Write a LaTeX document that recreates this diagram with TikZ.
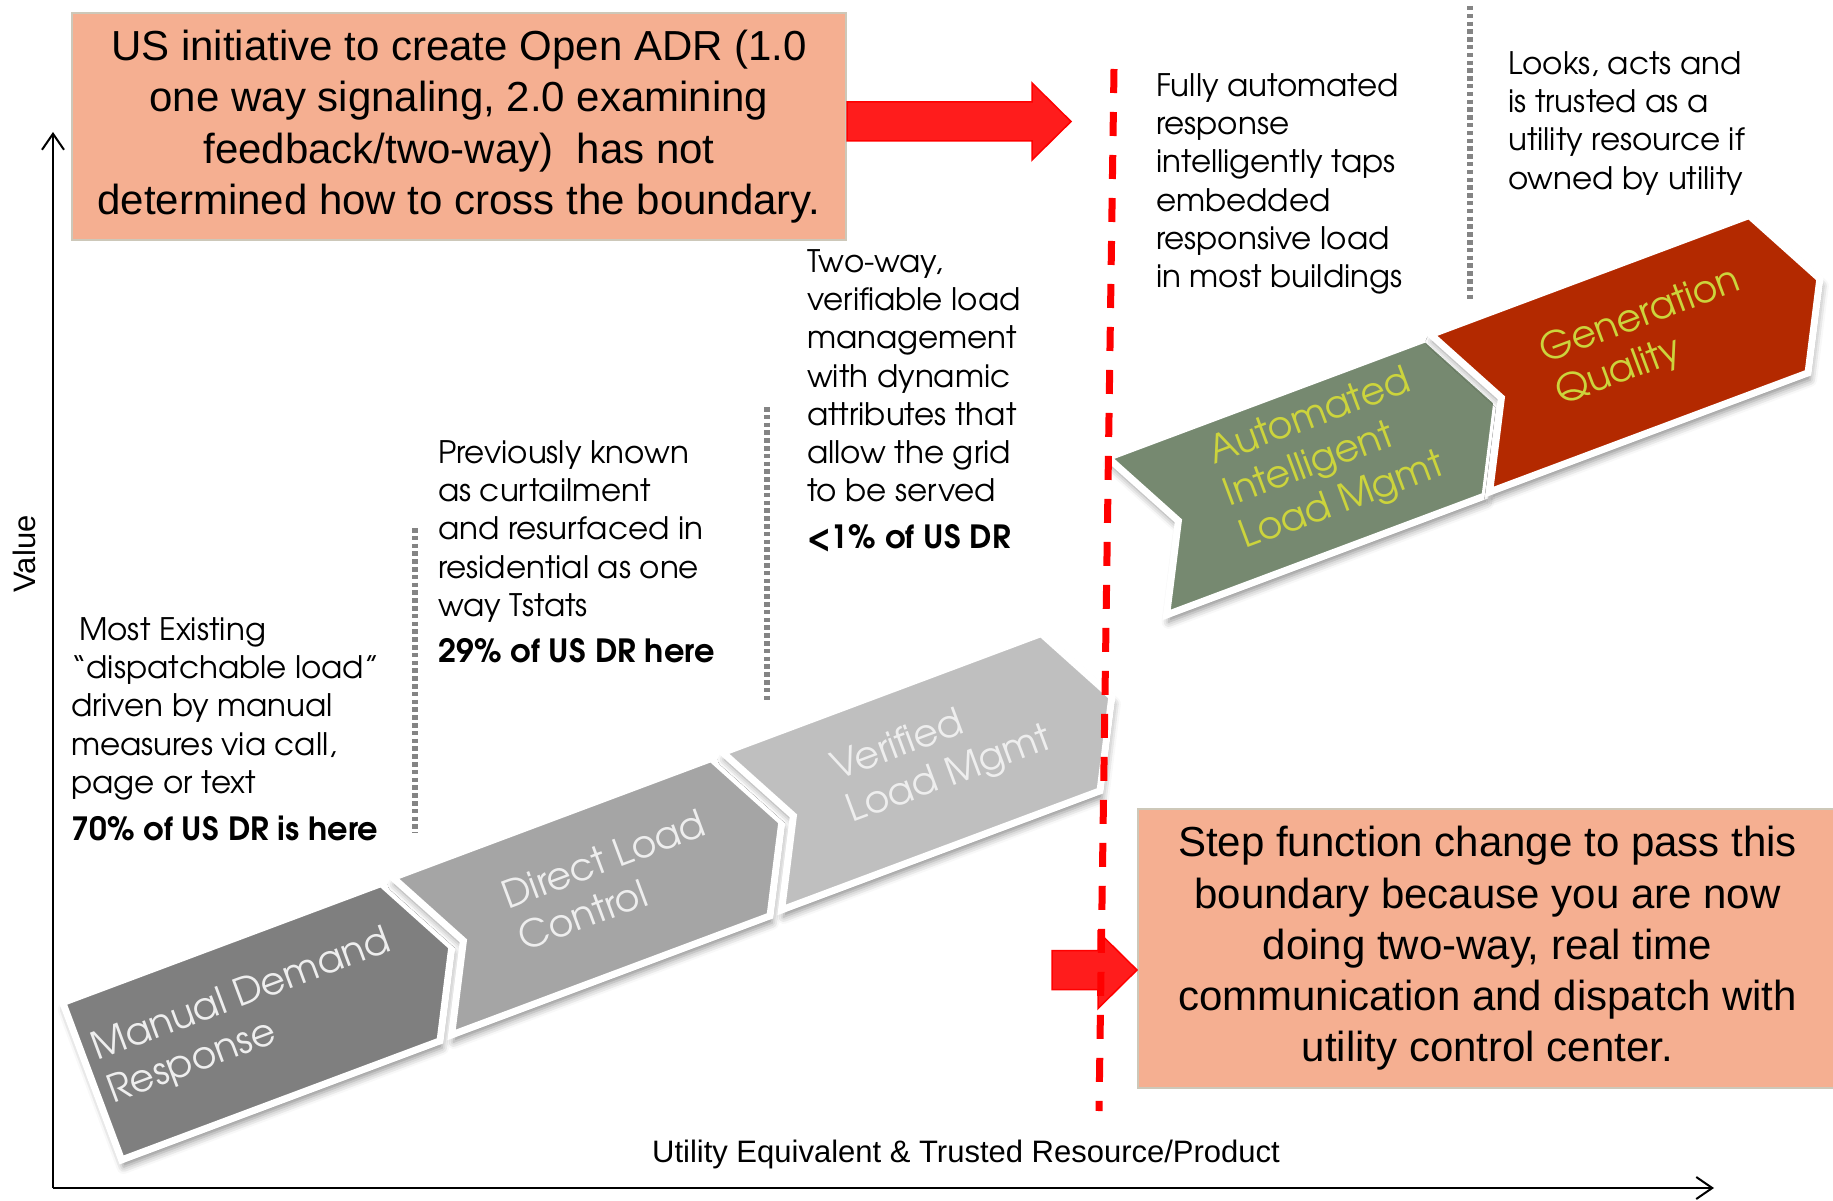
\documentclass[tikz,border=0pt]{standalone}
\usepackage{fontspec}
\setmainfont{Liberation Sans}
\newfontfamily\gothic{texgyreadventor}[Extension=.otf,UprightFont=*-regular,BoldFont=*-bold]
\usetikzlibrary{arrows.meta,calc,shadows.blur}

\definecolor{notefill}{RGB}{245,175,145}
\definecolor{noteline}{RGB}{205,200,185}
\definecolor{arrowred}{RGB}{255,28,28}
\definecolor{dotgrey}{RGB}{132,132,132}
\definecolor{mdrgrey}{RGB}{127,127,127}
\definecolor{dlcgrey}{RGB}{165,165,165}
\definecolor{vlmgrey}{RGB}{191,191,191}
\definecolor{ailmgreen}{RGB}{118,137,112}
\definecolor{gqred}{RGB}{179,41,0}
\definecolor{chevlime}{RGB}{204,212,60}
\definecolor{chevpale}{RGB}{238,238,238}

% name, centre, notch depth, fill, text colour, text start, label
\newcommand\chevron[7]{%
  \begin{scope}[shift={#2}, rotate=20.5]
    \draw[chevframe, fill=#4] (-192,84) -- (148,84) -- (192,0) -- (148,-84) -- (-192,-84) -- (-192+#3,0) -- cycle;
    \node[chevlabel, text=#5] (#1) at (#6,5) {#7};
  \end{scope}}

% tail, tip
\newcommand\blockarrow[2]{%
  \draw[redarrow] ($(#1)+(0,19.5)$) -- ($(#2)+(-39,19.5)$) -- ($(#2)+(-39,38.5)$) -- (#2)
    -- ($(#2)+(-39,-38.5)$) -- ($(#2)+(-39,-19.5)$) -- ($(#1)+(0,-19.5)$) -- cycle;}

\newcommand\share[1]{{\fontsize{32}{38.3}\selectfont\bfseries #1}}

\begin{document}
\begin{tikzpicture}[x=1pt, y=1pt,
chevframe/.style={draw=white, line width=7pt, line join=miter,
  blur shadow={shadow xshift=2pt, shadow yshift=-7pt, shadow blur radius=7pt, shadow opacity=45}},
chevlabel/.style={anchor=west, align=left, inner sep=0pt, transform shape, font=\gothic\fontsize{38}{45}\selectfont},
note/.style={anchor=north west, align=left, inner sep=0pt, font=\gothic\fontsize{31}{38.3}\selectfont},
notebox/.style={fill=notefill, draw=noteline, line width=2pt, align=center, font=\fontsize{42}{51.3}\selectfont},
redarrow/.style={fill=arrowred, draw=red, line width=1.5pt},
boundary/.style={draw=red, line width=7pt, dash pattern=on 24pt off 19pt},
divider/.style={draw=dotgrey, line width=5.5pt, dash pattern=on 4.5pt off 3.3pt},
axis/.style={line width=2pt, -{Straight Barb[length=16pt,width=22pt]}},
axislabel/.style={font=\fontsize{31}{37}\selectfont}
]
\useasboundingbox (0,0) rectangle (1833,-1201);

\coordinate (origin) at (53,-1188);
\coordinate (ytop) at (53,-132);
\coordinate (xend) at (1714,-1188);
\draw[axis] (origin) -- (ytop);
\draw[axis] (origin) -- (xend);
\node[axislabel, rotate=90] (value) at (24,-554) {Value};
\node[axislabel] (utility) at (966,-1154) {Utility Equivalent \& Trusted Resource/Product};

\chevron{mdr}{(272,-1014)}{0}{mdrgrey}{chevpale}{-180}{Manual Demand\\Response}
\chevron{dlc}{(602,-889)}{44}{dlcgrey}{chevpale}{-95}{Direct Load\\Control}
\chevron{vlm}{(932,-764)}{44}{vlmgrey}{chevpale}{-95}{Verified\\Load Mgmt}
\chevron{ailm}{(1317,-469)}{44}{ailmgreen}{chevlime}{-95}{Automated\\Intelligent\\Load Mgmt}
\chevron{gq}{(1640,-346)}{44}{gqred}{chevlime}{-95}{Generation\\Quality}

\draw[divider] (415,-528) -- (415,-833);
\draw[divider] (767,-407) -- (767,-702);
\draw[divider] (1470,-6) -- (1470,-302);

\node[note] (mdrnote) at (71,-617) {\hspace*{8pt}Most Existing\\“dispatchable load”\\driven by manual\\measures via call,\\page or text\\[9pt]\share{70\% of US DR is here}};
\node[note] (dlcnote) at (438,-440) {Previously known\\as curtailment\\and resurfaced in\\residential as one\\way Tstats\\[8pt]\share{29\% of US DR here}};
\node[note] (vlmnote) at (807,-249) {Two-way,\\verifiable load\\management\\with dynamic\\attributes that\\allow the grid\\to be served\\[8pt]\share{<1\% of US DR}};
\node[note] (ailmnote) at (1156,-73) {Fully automated\\response\\intelligently taps\\embedded\\responsive load\\in most buildings};
\node[note] (gqnote) at (1508,-51) {Looks, acts and\\is trusted as a\\utility resource if\\owned by utility};

\node[notebox, minimum width=774pt, minimum height=227pt] (adr) at (459,-126.5)
  {US initiative to create Open ADR (1.0\\one way signaling, 2.0 examining\\feedback/two-way)\ \ has not\\determined how to cross the boundary.\rule[-8pt]{0pt}{0pt}};
\node[notebox, minimum width=699pt, minimum height=279pt, anchor=north west] (step) at (1137,-808)
  {Step function change to pass this\\boundary because you are now\\doing two-way, real time\\communication and dispatch with\\utility control center.\rule[-8pt]{0pt}{0pt}};

\coordinate (adrtip) at (1071,-121.5);
\coordinate (steptail) at (1052,-970);
\blockarrow{adr.east |- adrtip}{adrtip}
\blockarrow{steptail}{step.west |- steptail}

\coordinate (btop) at (1114,-69);
\coordinate (bbot) at (1099,-1111);
\draw[boundary] (btop) -- (bbot);
\end{tikzpicture}
\end{document}
